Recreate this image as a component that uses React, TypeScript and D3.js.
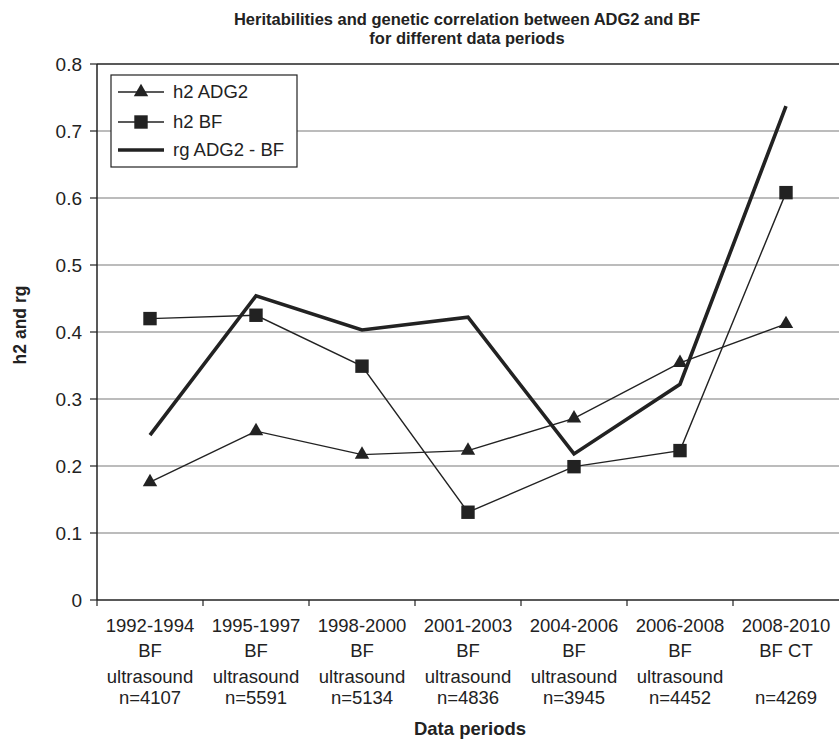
import React from 'react';
import { scaleBand, scaleLinear, line, symbol, symbolTriangle, symbolSquare } from 'd3';

const periods = ['1992-1994', '1995-1997', '1998-2000', '2001-2003', '2004-2006', '2006-2008', '2008-2010'];
const periodLabels = [
  ['1992-1994', 'BF', 'ultrasound', 'n=4107'],
  ['1995-1997', 'BF', 'ultrasound', 'n=5591'],
  ['1998-2000', 'BF', 'ultrasound', 'n=5134'],
  ['2001-2003', 'BF', 'ultrasound', 'n=4836'],
  ['2004-2006', 'BF', 'ultrasound', 'n=3945'],
  ['2006-2008', 'BF', 'ultrasound', 'n=4452'],
  ['2008-2010', 'BF CT', '', 'n=4269'],
];
const h2ADG2 = [0.176, 0.252, 0.217, 0.223, 0.271, 0.354, 0.412];
const h2BF = [0.42, 0.425, 0.349, 0.131, 0.199, 0.223, 0.608];
const rgADG2BF = [0.246, 0.454, 0.403, 0.422, 0.218, 0.322, 0.737];
const yTicks = [0, 0.1, 0.2, 0.3, 0.4, 0.5, 0.6, 0.7, 0.8];

const FONT = '"Liberation Sans", Arial, sans-serif';

export default function App() {
  const margin = { top: 64, right: 0, bottom: 140, left: 97 };
  const width = 839;
  const height = 740;

  const x = scaleBand().domain(periods).range([margin.left, width - margin.right]);
  const y = scaleLinear().domain([0, 0.8]).range([height - margin.bottom, margin.top]);
  const cx = (i: number) => (x(periods[i]) as number) + x.bandwidth() / 2;

  const path = line<number>().x((_, i) => cx(i)).y(d => y(d));
  const tri = symbol().type(symbolTriangle).size(90)();
  const sq = symbol().type(symbolSquare).size(180)();

  const x0 = margin.left;
  const x1 = width - margin.right;
  const yBottom = y(0);

  return (
    <svg width={width} height={height} style={{ position: 'absolute', left: 0, top: 0, background: '#fff' }} fontFamily={FONT}>
      {/* title */}
      <text x={467} y={25} textAnchor="middle" fontSize={16.5} fontWeight="bold" fill="#222">
        Heritabilities and genetic correlation between ADG2 and BF
      </text>
      <text x={467} y={44} textAnchor="middle" fontSize={16.5} fontWeight="bold" fill="#222">
        for different data periods
      </text>

      {/* gridlines */}
      {yTicks.filter(t => t > 0).map(t => (
        <line key={t} x1={x0} x2={x1} y1={y(t)} y2={y(t)} stroke={t === 0.8 ? '#222' : '#7a7a7a'} strokeWidth={t === 0.8 ? 1.5 : 1.2} />
      ))}

      {/* y axis */}
      <line x1={x0} x2={x0} y1={y(0.8)} y2={yBottom} stroke="#222" strokeWidth={1.5} />
      {yTicks.map(t => (
        <g key={t}>
          <line x1={x0 - 7} x2={x0} y1={y(t)} y2={y(t)} stroke="#222" strokeWidth={1.2} />
          <text x={x0 - 15} y={y(t)} dy="0.35em" textAnchor="end" fontSize={19} fill="#222">
            {t === 0 ? '0' : t.toFixed(1)}
          </text>
        </g>
      ))}
      <text transform={`translate(26,325) rotate(-90)`} textAnchor="middle" fontSize={17.5} fontWeight="bold" fill="#222">
        h2 and rg
      </text>

      {/* x axis */}
      <line x1={x0} x2={x1} y1={yBottom} y2={yBottom} stroke="#222" strokeWidth={1.5} />
      {periods.map(p => (
        <line key={p} x1={x(p) as number} x2={x(p) as number} y1={yBottom} y2={yBottom + 6} stroke="#222" strokeWidth={1.2} />
      ))}
      {periodLabels.map((lines, i) => (
        <text key={i} textAnchor="middle" fontSize={18.5} fill="#222">
          {lines.map((s, j) => (
            <tspan key={j} x={cx(i)} y={yBottom + 32 + [0, 25, 51, 72][j]}>{s}</tspan>
          ))}
        </text>
      ))}
      <text x={470} y={735} textAnchor="middle" fontSize={18.5} fontWeight="bold" fill="#222">
        Data periods
      </text>

      {/* series */}
      <path d={path(h2ADG2) as string} fill="none" stroke="#222" strokeWidth={1.4} />
      <path d={path(h2BF) as string} fill="none" stroke="#222" strokeWidth={1.4} />
      <path d={path(rgADG2BF) as string} fill="none" stroke="#222" strokeWidth={3.6} strokeLinejoin="miter" />
      {h2ADG2.map((d, i) => (
        <path key={i} d={tri as string} transform={`translate(${cx(i)},${y(d)})`} fill="#222" />
      ))}
      {h2BF.map((d, i) => (
        <path key={i} d={sq as string} transform={`translate(${cx(i)},${y(d)})`} fill="#222" />
      ))}

      {/* legend */}
      <g>
        <rect x={111} y={75} width={186} height={92} fill="#fff" stroke="#222" strokeWidth={1.2} />
        <line x1={118} x2={164} y1={92} y2={92} stroke="#222" strokeWidth={1.4} />
        <path d={tri as string} transform="translate(141,92)" fill="#222" />
        <text x={173} y={92} dy="0.35em" fontSize={18.5} fill="#222">h2 ADG2</text>
        <line x1={118} x2={164} y1={122} y2={122} stroke="#222" strokeWidth={1.4} />
        <path d={sq as string} transform="translate(141,122)" fill="#222" />
        <text x={173} y={122} dy="0.35em" fontSize={18.5} fill="#222">h2 BF</text>
        <line x1={118} x2={164} y1={150} y2={150} stroke="#222" strokeWidth={3.6} />
        <text x={173} y={150} dy="0.35em" fontSize={18.5} fill="#222">rg ADG2 - BF</text>
      </g>
    </svg>
  );
}
